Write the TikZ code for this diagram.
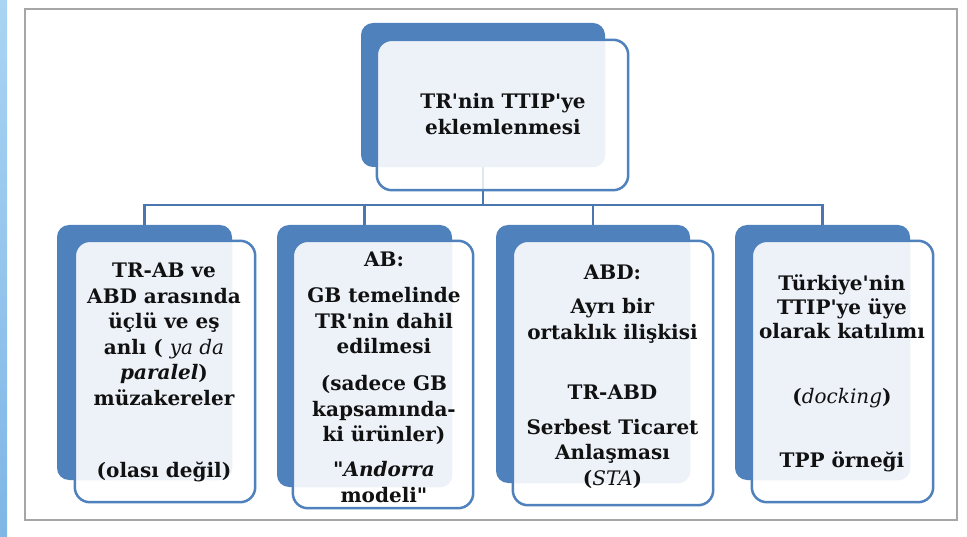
\documentclass[tikz,border=0pt]{standalone}
\usepackage{fontspec}
\setmainfont{DejaVu Serif}[Ligatures=TeXOff]
\definecolor{dkblue}{HTML}{4F81BD}
\definecolor{lightfill}{HTML}{EDF2F9}
\definecolor{framegray}{HTML}{A6A6A6}
\definecolor{txt}{HTML}{111111}
\definecolor{stripA}{HTML}{A9D4F3}
\definecolor{stripB}{HTML}{7FB6E6}
\tikzset{
  backbox/.style={fill=dkblue, draw=none, rounded corners=12pt, inner sep=0pt},
  frontbox/.style={fill=white, fill opacity=0.82, draw=none, rounded corners=15pt, inner sep=0pt},
  outline/.style={draw=dkblue, line width=2.5pt, rounded corners=15pt},
  lightpart/.style={fill=lightfill, rounded corners=12pt},
  conn/.style={draw=dkblue!92!black, line width=2.5pt},
  lbl/.style={font=\fontsize{20}{25.5}\selectfont\bfseries, text=txt, align=center, inner sep=0pt, anchor=north},
}
\begin{document}
\begin{tikzpicture}[x=1pt,y=-1pt]
\useasboundingbox (0,0) rectangle (967,537);
\fill[white] (0,0) rectangle (967,537);
\shade[top color=stripA, bottom color=stripB] (0,0) rectangle (7,537);
\draw[framegray, line width=2pt] (25,9) rectangle (957,520);

% back boxes
\node[backbox, minimum width=244pt, minimum height=144pt] (tb) at (483,95) {};
\node[backbox, minimum width=175pt, minimum height=255pt] (b1) at (144.5,352.5) {};
\node[backbox, minimum width=175pt, minimum height=262pt] (b2) at (364.5,356) {};
\node[backbox, minimum width=194pt, minimum height=258pt] (b3) at (593,354) {};
\node[backbox, minimum width=175pt, minimum height=255pt] (b4) at (822.5,352.5) {};

% connectors
\coordinate (bus) at (483,205);
\draw[conn] (tb.south) -- (bus);
\draw[conn] (bus) -| (b1.north);
\draw[conn] (bus) -| (b2.north);
\draw[conn] (bus) -| (b3.north);
\draw[conn] (bus) -| (b4.north);

% front boxes
\node[frontbox, minimum width=251pt, minimum height=150pt] (tf) at (502.5,115) {};
\node[frontbox, minimum width=180pt, minimum height=261pt] (f1) at (165,371.5) {};
\node[frontbox, minimum width=180pt, minimum height=267pt] (f2) at (383,374.5) {};
\node[frontbox, minimum width=200pt, minimum height=264pt] (f3) at (613,373) {};
\node[frontbox, minimum width=181pt, minimum height=261pt] (f4) at (842.5,371.5) {};

\foreach \f/\b in {tf/tb,f1/b1,f2/b2,f3/b3,f4/b4}{
  \begin{scope}
    \clip[rounded corners=15pt] (\f.south west) rectangle (\f.north east);
    \fill[lightpart] (\b.south west) rectangle (\b.north east);
  \end{scope}
  \draw[outline] (\f.south west) rectangle (\f.north east);
}

% texts
\node[lbl, font=\fontsize{20}{26}\selectfont\bfseries] (t0) at (503,93) {TR'nin TTIP'ye\\eklemlenmesi};
\node[lbl] (t1) at (164,263) {TR-AB ve\\ABD arasında\\üçlü ve eş\\anlı ( \textit{\mdseries ya da}\\\textit{paralel})\\müzakereler\\[46.5pt](olası değil)};
\node[lbl] (t2) at (384,252) {AB:\\[10.5pt]GB temelinde\\TR'nin dahil\\edilmesi\\[11.5pt](sadece GB\\kapsamında-\\ki ürünler)\\[9.5pt]\textit{"Andorra}\\modeli"};
\node[lbl] (t3) at (612.5,265) {ABD:\\[8.5pt]Ayrı bir\\ortaklık ilişkisi\\[34.5pt]TR-ABD\\[9.5pt]Serbest Ticaret\\Anlaşması\\(\textit{\mdseries STA})};
\node[lbl, font=\fontsize{20}{24}\selectfont\bfseries] (t4) at (842,275) {Türkiye'nin\\TTIP'ye üye\\olarak katılımı\\[41pt](\textit{\mdseries docking})\\[40pt]TPP örneği};
\end{tikzpicture}
\end{document}
